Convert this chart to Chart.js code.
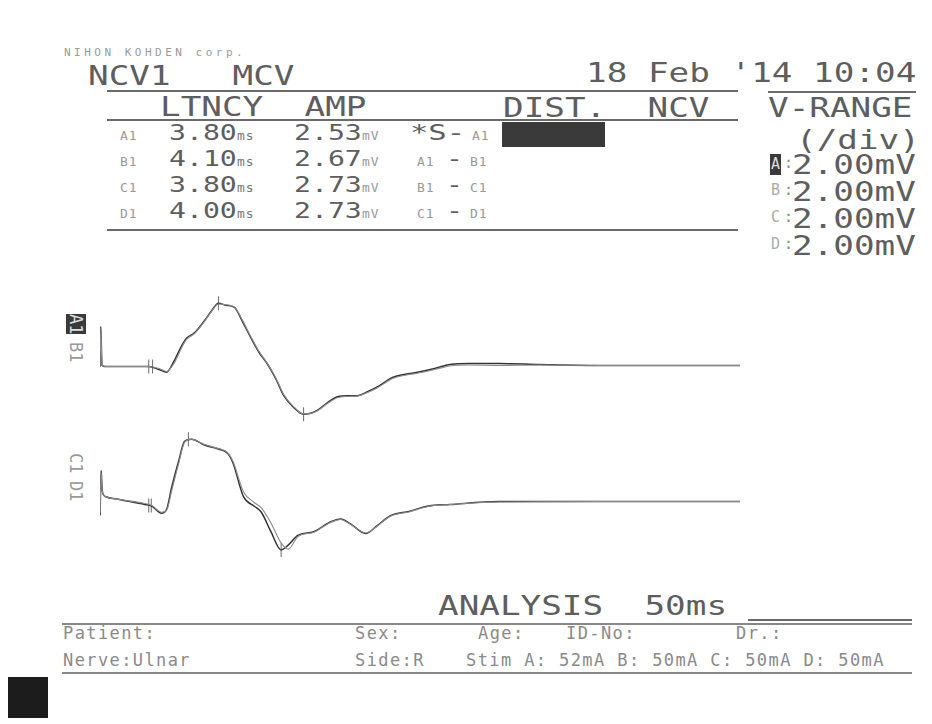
<!DOCTYPE html>
<html>
<head>
<meta charset="utf-8">
<script src="https://cdn.jsdelivr.net/npm/chart.js@4/dist/chart.umd.min.js"></script>
<style>
  html,body{margin:0;padding:0;background:#fff;}
  #page{position:relative;width:932px;height:724px;overflow:hidden;background:#fff;}
  .t{position:absolute;white-space:pre;font-family:"DejaVu Sans Mono",monospace;line-height:1;color:#5e5e5e;transform-origin:0 0;}
  .big{font-size:27px;transform:scaleX(1.27);}
  .mid{font-size:21px;transform:scaleX(1.34);}
  .sm{font-size:13px;letter-spacing:1px;color:#999;}
  .bot{font-size:17px;letter-spacing:1.4px;color:#8a8a8a;}
  .rule{position:absolute;background:#6a6a6a;}
  .box{position:absolute;background:#3a3a3a;}
  .vlab{position:absolute;font-family:"DejaVu Sans Mono",monospace;font-size:17px;line-height:20px;writing-mode:vertical-rl;color:#999;}
  canvas{position:absolute;}
</style>
</head>
<body>
<div id="page">
  <div class="t" style="left:64px;top:47px;font-size:11px;letter-spacing:3.5px;color:#9a9a9a;">NIHON KOHDEN corp.</div>
  <div class="t big" style="left:88px;top:62px;">NCV1   MCV</div>
  <div class="t big" style="left:586px;top:59px;">18 Feb '14 10:04</div>
  <div class="rule" style="left:107px;top:90px;width:631px;height:2px;"></div>
  <div class="rule" style="left:768px;top:91px;width:148px;height:2px;"></div>
  <div class="t big" style="left:160px;top:93px;">LTNCY  AMP</div>
  <div class="t big" style="left:503px;top:94px;">DIST.  NCV</div>
  <div class="t big" style="left:768px;top:94px;">V-RANGE</div>
  <div class="rule" style="left:107px;top:119px;width:631px;height:2px;"></div>
  <div class="box" style="left:502px;top:122px;width:103px;height:25px;"></div>
  <div class="rule" style="left:107px;top:229px;width:631px;height:2px;"></div>
  <div class="t big" style="left:796px;top:126px;">(/div)</div>
  <div id="rows"></div>
  <div id="vrows"></div>

  <div class="vlab" style="left:66px;top:314px;background:#3a3a3a;color:#ddd;">A1</div>
  <div class="vlab" style="left:66px;top:342px;">B1</div>
  <div class="vlab" style="left:66px;top:453px;">C1</div>
  <div class="vlab" style="left:66px;top:481px;">D1</div>

  <canvas id="cAB" width="656" height="166" style="left:92px;top:271px;width:656px;height:166px;"></canvas>
  <canvas id="cCD" width="656" height="166" style="left:92px;top:405px;width:656px;height:166px;"></canvas>

  <div class="t big" style="left:438px;top:592px;">ANALYSIS  50ms</div>
  <div class="rule" style="left:748px;top:619px;width:164px;height:1.5px;"></div>
  <div class="rule" style="left:62px;top:623px;width:850px;height:2px;background:#888;"></div>
  <div class="t bot" style="left:63px;top:625px;">Patient:</div>
  <div class="t bot" style="left:355px;top:625px;">Sex:</div>
  <div class="t bot" style="left:478px;top:625px;">Age:</div>
  <div class="t bot" style="left:566px;top:625px;">ID-No:</div>
  <div class="t bot" style="left:736px;top:625px;">Dr.:</div>
  <div class="t bot" style="left:63px;top:652px;">Nerve:Ulnar</div>
  <div class="t bot" style="left:355px;top:652px;">Side:R</div>
  <div class="t bot" style="left:466px;top:652px;">Stim A: 52mA B: 50mA C: 50mA D: 50mA</div>
  <div class="rule" style="left:62px;top:672px;width:850px;height:2px;background:#888;"></div>
  <div class="box" style="left:8px;top:677px;width:40px;height:41px;background:#1c1c1c;"></div>
</div>

<script>
// ---- table data ----
const channels   = ["A1", "B1", "C1", "D1"];
const latencies  = ["3.80", "4.10", "3.80", "4.00"];
const amplitudes = ["2.53", "2.67", "2.73", "2.73"];
const segments   = [["*S-", "A1"], ["A1", "B1"], ["B1", "C1"], ["C1", "D1"]];
const vLabels    = ["A", "B", "C", "D"];
const vRanges    = ["2.00mV", "2.00mV", "2.00mV", "2.00mV"];

// ---- waveform data (time in ms, amplitude in mV) ----
const timeAB = [0, 0.05, 0.15, 0.4, 3.8, 4.6, 5.2, 5.75, 6.4, 6.75, 7.4, 8.15, 8.7, 9.25, 9.85, 10.5, 11.1, 11.8, 12.4, 13.1, 13.75, 14.35, 15.05, 15.9, 16.45, 17.0, 17.8, 18.55, 19.35, 20.1, 20.9, 21.65, 22.9, 23.85, 24.8, 26.15, 27.35, 28.9, 31.2, 34.3, 39.0, 45.2, 50.0];
const valA1  = [0, 1.6, 0.05, 0, 0, -0.12, -0.23, 0.19, 0.86, 1.13, 1.36, 1.83, 2.22, 2.53, 2.45, 2.37, 1.83, 1.13, 0.58, 0.08, -0.51, -1.17, -1.6, -1.91, -1.87, -1.75, -1.44, -1.21, -1.17, -1.17, -1.01, -0.82, -0.43, -0.31, -0.23, -0.08, 0.08, 0.12, 0.12, 0.08, 0.04, 0.04, 0.04];
const valB1  = [0, 1.5, 0.05, 0, 0, -0.08, -0.2, 0.1, 0.78, 1.08, 1.33, 1.8, 2.2, 2.5, 2.47, 2.38, 1.88, 1.18, 0.62, 0.1, -0.47, -1.12, -1.57, -1.9, -1.88, -1.77, -1.47, -1.25, -1.2, -1.18, -1.04, -0.86, -0.47, -0.35, -0.27, -0.12, 0.02, 0.06, 0.04, 0.06, 0.04, 0.04, 0.04];

const timeCD = [0, 0.08, 0.16, 0.3, 0.4, 1.5, 3.5, 4.05, 4.8, 5.2, 5.6, 6.15, 6.6, 7.15, 8.15, 9.25, 10.0, 10.4, 11.2, 12.05, 12.6, 13.35, 14.15, 14.7, 15.45, 16.7, 18.0, 18.8, 19.55, 20.75, 21.65, 22.65, 24.2, 25.55, 27.35, 31.2, 39.0, 50.0];
const valC1  = [-0.6, 1.2, 0.45, 0.2, 0.16, 0.04, -0.16, -0.23, -0.51, -0.35, 0.54, 1.6, 2.37, 2.45, 2.22, 2.06, 1.87, 1.48, 0.16, -0.23, -0.47, -1.25, -1.98, -1.79, -1.4, -1.25, -0.86, -0.74, -0.93, -1.32, -1.01, -0.62, -0.43, -0.23, -0.16, -0.04, -0.04, -0.04];
const valD1  = [-0.5, 1.1, 0.4, 0.2, 0.16, 0.04, -0.12, -0.2, -0.47, -0.39, 0.4, 1.5, 2.33, 2.45, 2.24, 2.08, 1.9, 1.55, 0.35, -0.08, -0.3, -0.9, -1.7, -1.95, -1.45, -1.27, -0.88, -0.76, -0.95, -1.3, -1.03, -0.64, -0.45, -0.25, -0.16, -0.06, -0.04, -0.04];

// cursor marks (ms, mV)
const markTimeAB = [3.8, 4.1, 9.25, 15.9];
const markValAB  = [0, 0, 2.53, -1.91];
const markTimeCD = [3.8, 4.0, 6.9, 14.15];
const markValCD  = [-0.2, -0.2, 2.45, -1.98];

const timeRange = [0, 50];
const voltRange = [-2.5, 3.5];

// ---- build table text ----
const rowsEl = document.getElementById('rows');
function addText(parent, cls, left, top, text, extra) {
  const d = document.createElement('div');
  d.className = 't ' + cls;
  d.style.left = left + 'px';
  d.style.top = top + 'px';
  d.textContent = text;
  if (extra) Object.assign(d.style, extra);
  parent.appendChild(d);
  return d;
}
channels.forEach((ch, i) => {
  const top = 122.5 + i * 26;
  const base = top + 17.8;
  const smTop = base - 11;
  addText(rowsEl, 'sm', 120, smTop, ch);
  addText(rowsEl, 'mid', 169, top, latencies[i]);
  addText(rowsEl, 'sm', 237, smTop, 'ms', {color: '#777'});
  addText(rowsEl, 'mid', 294, top, amplitudes[i]);
  addText(rowsEl, 'sm', 362, smTop, 'mV');
  const seg = segments[i];
  if (i === 0) {
    addText(rowsEl, 'mid', 410, top, seg[0], {transform: 'scaleX(1.45)'});
    addText(rowsEl, 'sm', 472, smTop, seg[1]);
  } else {
    addText(rowsEl, 'sm', 417, smTop, seg[0]);
    addText(rowsEl, 'mid', 446, top, '-');
    addText(rowsEl, 'sm', 470, smTop, seg[1]);
  }
});
const vEl = document.getElementById('vrows');
vLabels.forEach((lab, i) => {
  const top = 151 + i * 27;
  if (i === 0) {
    addText(vEl, '', 770, top + 3, lab, {fontSize: '15px', background: '#3a3a3a', color: '#ddd', padding: '2px 1px', lineHeight: '17px'});
  } else {
    addText(vEl, '', 771, top + 5, lab, {fontSize: '15px', color: '#aaa'});
  }
  addText(vEl, '', 784, top + 5, ':', {fontSize: '15px', color: '#888'});
  addText(vEl, 'big', 792, top, vRanges[i]);
});

// ---- charts ----
function pts(ts, vs) { return ts.map((t, i) => ({x: t, y: vs[i]})); }
function makeChart(id, traces, marks) {
  const datasets = traces.map(tr => ({
    data: pts(tr.t, tr.v),
    borderColor: tr.color,
    borderWidth: tr.width,
    pointRadius: 0,
    fill: false,
    cubicInterpolationMode: 'monotone'
  }));
  datasets.push({
    data: pts(marks.t, marks.v),
    showLine: false,
    pointStyle: 'line',
    rotation: 90,
    pointRadius: 7,
    pointBorderColor: '#777',
    pointBorderWidth: 1.1
  });
  return new Chart(document.getElementById(id), {
    type: 'line',
    data: {datasets},
    options: {
      responsive: false,
      animation: false,
      layout: {padding: 6},
      plugins: {legend: {display: false}, tooltip: {enabled: false}},
      scales: {
        x: {type: 'linear', min: timeRange[0], max: timeRange[1], display: false},
        y: {type: 'linear', min: voltRange[0], max: voltRange[1], display: false}
      }
    }
  });
}
makeChart('cAB', [
  {t: timeAB, v: valB1, color: '#8c8c8c', width: 1.1},
  {t: timeAB, v: valA1, color: '#333333', width: 1.5}
], {t: markTimeAB, v: markValAB});
makeChart('cCD', [
  {t: timeCD, v: valD1, color: '#8c8c8c', width: 1.1},
  {t: timeCD, v: valC1, color: '#333333', width: 1.5}
], {t: markTimeCD, v: markValCD});
</script>
</body>
</html>
